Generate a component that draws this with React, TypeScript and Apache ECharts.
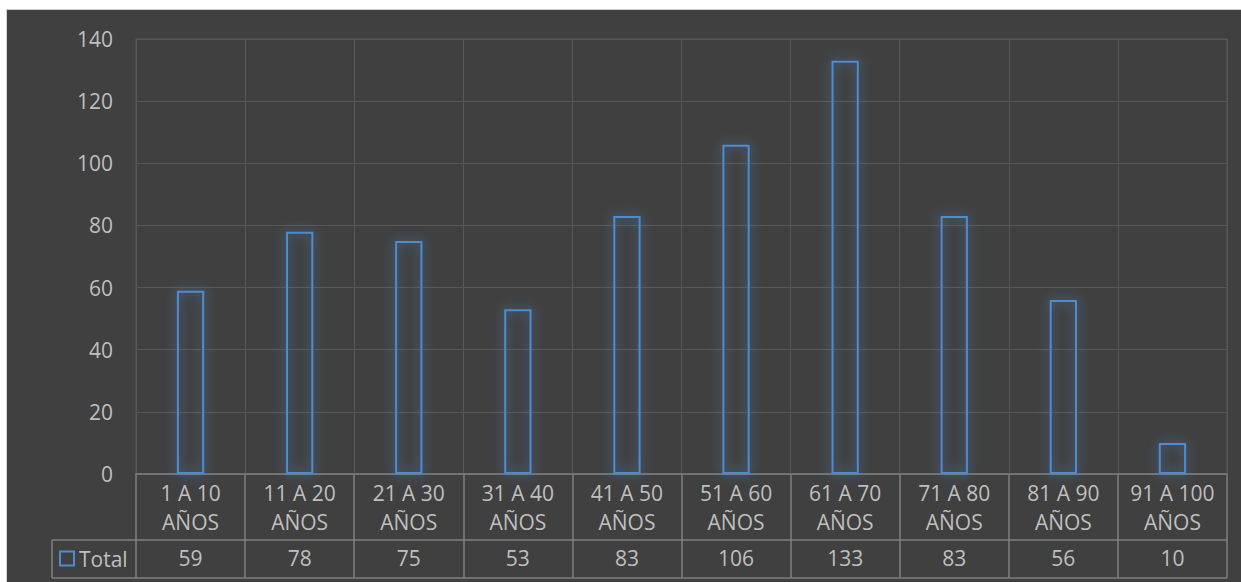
import React, { useEffect, useRef } from "react";
import * as echarts from "echarts";

const categories = [
  "1 A 10\nAÑOS",
  "11 A 20\nAÑOS",
  "21 A 30\nAÑOS",
  "31 A 40\nAÑOS",
  "41 A 50\nAÑOS",
  "51 A 60\nAÑOS",
  "61 A 70\nAÑOS",
  "71 A 80\nAÑOS",
  "81 A 90\nAÑOS",
  "91 A 100\nAÑOS",
];
const totals = [59, 78, 75, 53, 83, 106, 133, 83, 56, 10];
const seriesName = "Total";

const FONT = "Open Sans";
const FS = 21;
const TEXT = "#bfbfbf";
const TABLE = "#7f7f7f";
const GRIDC = "#585858";
const BAR = "#4f8bd0";

export default function App() {
  const ref = useRef<HTMLDivElement>(null);
  useEffect(() => {
    if (!ref.current) return;
    const chart = echarts.init(ref.current, undefined, { renderer: "svg" });
    const gl = 136, gr = 1227, gt = 39, gb = 474;
    const row2 = 540, row3 = 578, leftCell = 52;
    const lineStyle = { stroke: TABLE, lineWidth: 1.5 };
    chart.setOption({
      animation: false,
      backgroundColor: "#404040",
      textStyle: { fontFamily: FONT },
      grid: {
        left: gl,
        right: 1241 - gr,
        top: gt,
        bottom: 582 - gb,
        show: true,
        borderColor: GRIDC,
        borderWidth: 1,
      },
      legend: {
        data: [seriesName],
        left: 59,
        top: 548,
        padding: [0, 0, 0, 0],
        icon: "rect",
        itemWidth: 14,
        itemHeight: 14,
        itemGap: 4,
        textStyle: { color: TEXT, fontSize: FS, fontFamily: FONT, padding: [0, 0, 0, 0] },
      },
      xAxis: [
        {
          type: "category",
          data: categories,
          boundaryGap: true,
          axisLine: { show: true, lineStyle: { color: TABLE, width: 1.5 } },
          axisTick: {
            show: true,
            interval: 0,
            length: row3 - gb,
            lineStyle: { color: TABLE, width: 1.5 },
          },
          axisLabel: {
            interval: 0,
            color: TEXT,
            fontSize: FS,
            lineHeight: 29,
            margin: 4,
            fontFamily: FONT,
          },
          splitLine: { show: true, interval: 0, lineStyle: { color: GRIDC } },
        },
        {
          type: "category",
          data: categories,
          position: "bottom",
          offset: row2 - gb,
          axisLine: { show: true, lineStyle: { color: TABLE, width: 1.5 } },
          axisTick: { show: false },
          axisLabel: {
            interval: 0,
            color: TEXT,
            fontSize: FS,
            margin: 7,
            fontFamily: FONT,
            formatter: (_v: string, i: number) => String(totals[i]),
          },
          splitLine: { show: false },
        },
      ],
      yAxis: {
        type: "value",
        min: 0,
        max: 140,
        interval: 20,
        axisLine: { show: false },
        axisTick: { show: false },
        axisLabel: { color: TEXT, fontSize: FS, margin: 23, fontFamily: FONT },
        splitLine: { show: true, lineStyle: { color: GRIDC } },
      },
      series: [
        {
          name: seriesName,
          type: "bar",
          xAxisIndex: 0,
          data: totals,
          barWidth: "25%",
          itemStyle: {
            color: "rgba(0,0,0,0)",
            borderColor: BAR,
            borderWidth: 2,
            shadowBlur: 12,
            shadowColor: "rgba(79,139,208,1)",
          },
        },
      ],
      graphic: [
        { type: "rect", shape: { x: 0, y: 0, width: 1241, height: 9 }, style: { fill: "#ffffff" }, z: 100 },
        { type: "rect", shape: { x: 0, y: 0, width: 6, height: 582 }, style: { fill: "#ffffff" }, z: 100 },
        { type: "line", shape: { x1: 6, y1: 9.5, x2: 1241, y2: 9.5 }, style: { stroke: "#cfcfcf", lineWidth: 1 }, z: 100 },
        { type: "line", shape: { x1: 6.5, y1: 9, x2: 6.5, y2: 582 }, style: { stroke: "#cfcfcf", lineWidth: 1 }, z: 100 },
        { type: "line", shape: { x1: leftCell, y1: row2, x2: gl, y2: row2 }, style: lineStyle, z: 100 },
        { type: "line", shape: { x1: leftCell, y1: row3, x2: gr, y2: row3 }, style: lineStyle, z: 100 },
        { type: "line", shape: { x1: leftCell, y1: row2, x2: leftCell, y2: row3 }, style: lineStyle, z: 100 },
      ],
    });
    return () => chart.dispose();
  }, []);
  return (
    <div
      ref={ref}
      style={{ position: "fixed", left: 0, top: 0, width: 1241, height: 582 }}
    />
  );
}
